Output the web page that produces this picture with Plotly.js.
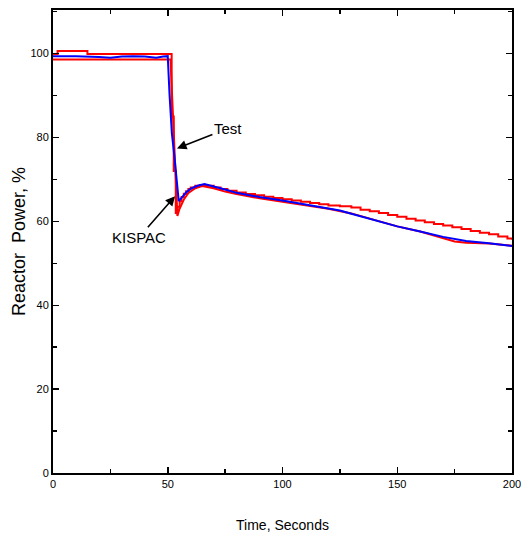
<!DOCTYPE html>
<html><head><meta charset="utf-8">
<script src="https://cdn.plot.ly/plotly-3.0.1.min.js"></script>
<style>html,body{margin:0;padding:0;background:#fff}#c{width:525px;height:533px}</style>
</head><body><div id="c"></div>
<script>
// Test (upper bound, stepped recording)
const testUpperT = [0, 2, 15, 51.7, 52.6, 53.5, 54.3, 55.2, 56, 57, 58, 59, 60, 62, 64, 67, 70, 73, 76, 80, 84, 88, 92, 96, 100, 104, 108, 112, 116, 120, 125, 130, 134, 138, 142, 146, 150, 154, 158, 162, 166, 170, 174, 178, 182, 186, 190, 194, 198, 200];
const testUpperP = [99.9, 100.6, 99.9, 85, 72, 62, 63.5, 64.8, 65.8, 66.6, 67.2, 67.7, 68.1, 68.5, 68.7, 68.5, 68.1, 67.7, 67.3, 66.9, 66.5, 66.2, 65.9, 65.6, 65.3, 65.0, 64.7, 64.4, 64.1, 63.8, 63.6, 63.3, 62.8, 62.4, 62.0, 61.5, 61.1, 60.6, 60.2, 59.8, 59.4, 59.0, 58.6, 58.2, 57.7, 57.3, 56.9, 56.4, 55.9, 55.6];
// Test (lower bound)
const testLowerT = [0, 51.2, 52.3, 53.2, 54.2, 55, 57, 59, 62, 65, 70, 75, 80, 90, 100, 110, 120, 130, 140, 150, 160, 170, 175, 180, 190, 200];
const testLowerP = [98.6, 98.6, 85, 72, 61.3, 62.8, 65.2, 66.8, 67.9, 68.4, 67.9, 67.1, 66.5, 65.5, 64.7, 63.9, 63.0, 61.9, 60.4, 58.8, 57.6, 56.0, 55.2, 54.9, 54.7, 54.2];
// KISPAC calculation
const kispacT = [0, 10, 20, 25, 30, 35, 40, 45, 48, 50, 50.8, 51.8, 52.8, 54, 54.8, 56, 58, 60, 63, 66, 70, 75, 80, 90, 100, 110, 120, 125, 130, 140, 150, 160, 170, 180, 190, 200];
const kispacP = [99.4, 99.4, 99.2, 99.0, 99.3, 99.4, 99.3, 99.0, 99.3, 99.4, 90, 81, 76, 68, 64.8, 65.6, 66.9, 67.8, 68.5, 68.9, 68.4, 67.6, 66.8, 65.8, 65.0, 64.1, 63.1, 62.6, 61.8, 60.3, 58.8, 57.6, 56.3, 55.3, 54.8, 54.1];

const xTicks = [0, 50, 100, 150, 200];
const yTicks = [0, 20, 40, 60, 80, 100];

const traces = [
  {x: testUpperT, y: testUpperP, mode: 'lines', line: {color: '#ff0000', width: 2, shape: 'hv'}, name: 'Test', hoverinfo: 'skip'},
  {x: testLowerT, y: testLowerP, mode: 'lines', line: {color: '#ff0000', width: 2}, name: 'Test', hoverinfo: 'skip'},
  {x: kispacT, y: kispacP, mode: 'lines', line: {color: '#0000ff', width: 2}, name: 'KISPAC', hoverinfo: 'skip'}
];

const font = {family: 'Liberation Sans, Arial, sans-serif', color: '#000'};
const layout = {
  width: 525, height: 533,
  margin: {l: 53, r: 13, t: 10, b: 60},
  paper_bgcolor: '#fff', plot_bgcolor: '#fff',
  showlegend: false,
  font: font,
  xaxis: {
    range: [0, 200], tickvals: xTicks, ticktext: xTicks.map(String),
    ticks: 'inside', ticklen: 6, tickwidth: 1.5, tickcolor: '#000',
    minor: {ticks: 'inside', dtick: 25, ticklen: 4, tickwidth: 1.5, tickcolor: '#000', showgrid: false},
    showline: true, linecolor: '#000', linewidth: 2, mirror: 'ticks',
    showgrid: false, zeroline: false,
    tickfont: {size: 11, family: font.family, color: '#000'},
    title: {text: 'Time, Seconds', font: {size: 14, family: font.family, color: '#000'}, standoff: 31}
  },
  yaxis: {
    range: [0, 110.4], tickvals: yTicks, ticktext: yTicks.map(String),
    ticks: 'inside', ticklen: 6, tickwidth: 1.5, tickcolor: '#000',
    minor: {ticks: 'inside', dtick: 10, ticklen: 4, tickwidth: 1.5, tickcolor: '#000', showgrid: false},
    showline: true, linecolor: '#000', linewidth: 2, mirror: 'ticks',
    showgrid: false, zeroline: false,
    tickfont: {size: 11, family: font.family, color: '#000'},
    title: {text: 'Reactor  Power, %', font: {size: 18, family: font.family, color: '#000'}, standoff: 0}
  },
  annotations: [
    {x: 54.0, y: 77.4, xref: 'x', yref: 'y', text: 'Test', showarrow: true,
     ax: 51, ay: -20, arrowhead: 2, arrowsize: 1.2, arrowwidth: 1.6, arrowcolor: '#000',
     font: {size: 15, family: font.family, color: '#000'}},
    {x: 53.2, y: 66, xref: 'x', yref: 'y', text: 'KISPAC', showarrow: true,
     ax: -36, ay: 41, arrowhead: 2, arrowsize: 1.2, arrowwidth: 1.6, arrowcolor: '#000',
     font: {size: 15, family: font.family, color: '#000'}}
  ]
};
Plotly.newPlot('c', traces, layout, {displayModeBar: false, staticPlot: true});
</script></body></html>
